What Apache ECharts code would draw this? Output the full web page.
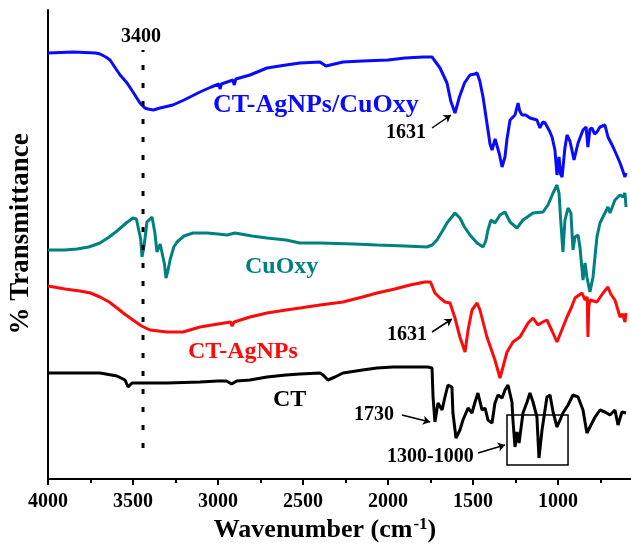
<!DOCTYPE html>
<html>
<head>
<meta charset="utf-8">
<script src="https://cdn.jsdelivr.net/npm/echarts@6/dist/echarts.min.js"></script>
<style>
  html, body { margin: 0; padding: 0; background: #fff; }
  #chart { width: 631px; height: 548px; }
</style>
</head>
<body>
<div id="chart"></div>
<script>
// [wavenumber cm-1, transmittance (a.u., curves stacked with offsets)]
var ctAgCuOxy = [[4000,426],[3850,427],[3720,426],[3694,425],[3660,422],[3635,419],[3600,410],[3576,404],[3535,396],[3500,387],[3459,376],[3430,371],[3412,370],[3380,369],[3341,371],[3265,374],[3200,379],[3106,387],[3040,392],[2995,395],[2988,390],[2980,395],[2912,399],[2905,394],[2895,400],[2812,404],[2712,411],[2600,414],[2518,416],[2400,417],[2365,413],[2340,414],[2265,417],[2150,418],[2000,419],[1900,421],[1794,422],[1741,422],[1694,411],[1653,396],[1631,378],[1606,366],[1580,382],[1550,396],[1518,404],[1490,405],[1476,406],[1460,398],[1441,382],[1412,349],[1400,335],[1388,329],[1370,340],[1359,339],[1345,325],[1329,312],[1312,322],[1300,340],[1282,359],[1253,364],[1235,376],[1225,368],[1212,364],[1190,364],[1165,361],[1124,359],[1106,351],[1090,357],[1076,356],[1050,348],[1035,342],[1018,329],[1006,304],[994,322],[985,305],[976,302],[960,330],[947,344],[930,338],[918,329],[906,319],[882,336],[853,349],[835,352],[829,350],[824,332],[812,350],[800,351],[785,345],[771,347],[753,352],[724,354],[706,342],[676,332],[650,322],[635,316],[606,302],[600,306]];

var cuOxy = [[4000,229],[3900,229],[3830,230],[3760,232],[3694,236],[3640,242],[3594,248],[3540,256],[3500,261],[3480,260],[3471,258],[3455,240],[3447,222],[3438,230],[3429,241],[3418,257],[3388,262],[3371,246],[3359,227],[3347,232],[3340,235],[3329,226],[3315,215],[3306,201],[3295,208],[3282,219],[3260,232],[3241,237],[3200,243],[3147,246],[3065,246],[3000,245],[2947,244],[2900,246],[2800,243],[2712,241],[2600,239],[2518,236],[2400,236],[2200,235],[2065,234],[1900,233],[1771,232],[1740,234],[1712,239],[1680,248],[1653,256],[1606,266],[1577,261],[1550,252],[1518,244],[1476,236],[1441,232],[1425,238],[1412,249],[1394,259],[1371,256],[1341,264],[1312,267],[1282,257],[1241,251],[1206,259],[1147,266],[1088,267],[1059,274],[1029,286],[1006,294],[994,286],[983,256],[971,227],[959,259],[941,271],[924,266],[912,229],[900,242],[882,244],[871,232],[853,199],[841,216],[830,202],[812,187],[794,202],[771,242],[753,256],[724,266],[706,272],[694,266],[665,279],[635,284],[618,282],[606,286],[600,272]];

var ctAgNPs = [[4000,193],[3900,190],[3812,188],[3750,186],[3694,182],[3640,177],[3594,171],[3550,165],[3500,159],[3450,153],[3400,149],[3300,147],[3206,147],[3106,152],[3000,155],[2925,157],[2918,153],[2905,157],[2812,162],[2712,166],[2600,169],[2518,171],[2400,174],[2265,177],[2150,182],[2065,186],[1960,190],[1871,194],[1782,197],[1750,197],[1741,196],[1724,186],[1694,181],[1665,177],[1635,176],[1606,161],[1577,142],[1547,127],[1529,149],[1506,169],[1476,176],[1459,169],[1418,142],[1371,119],[1341,101],[1300,127],[1265,137],[1224,142],[1176,156],[1147,161],[1118,154],[1090,157],[1065,159],[1035,148],[1006,137],[980,148],[947,162],[920,172],[900,181],[859,186],[841,179],[828,182],[824,142],[819,172],[812,179],[771,177],[735,186],[706,192],[690,185],[665,179],[635,162],[620,165],[606,157],[600,166]];

var ct = [[4000,106],[3800,106],[3694,106],[3594,103],[3547,99],[3529,92],[3506,96],[3459,96],[3300,96],[3106,97],[3000,98],[2950,98],[2920,95],[2890,98],[2812,99],[2712,102],[2600,104],[2518,105],[2400,106],[2382,104],[2353,99],[2312,102],[2265,106],[2150,109],[2065,111],[1971,112],[1850,112],[1765,112],[1741,111],[1735,82],[1724,57],[1706,76],[1682,69],[1665,82],[1647,94],[1624,92],[1618,66],[1600,41],[1577,49],[1559,59],[1529,71],[1506,66],[1488,77],[1471,86],[1447,69],[1429,71],[1412,59],[1388,56],[1371,76],[1353,84],[1329,81],[1312,89],[1294,94],[1271,77],[1265,59],[1253,32],[1241,47],[1229,36],[1206,66],[1182,77],[1165,86],[1147,77],[1124,62],[1112,21],[1094,49],[1065,82],[1047,84],[1029,67],[1006,52],[988,59],[971,66],[941,74],[912,84],[882,82],[853,69],[830,46],[812,52],[782,62],[753,69],[724,67],[694,64],[665,69],[647,54],[624,67],[600,66]];

var ohLine = [[3441,31],[3441,429]];
var xTickLabels = [4000, 3500, 3000, 2500, 2000, 1500, 1000];

var FONT = '"Liberation Serif", "Times New Roman", serif';
var chart = echarts.init(document.getElementById('chart'));

function arrow(a, b) {
  return [{ coord: a }, { coord: b }];
}

var option = {
  animation: false,
  grid: { left: 48, right: -12, top: 10, bottom: 69, containLabel: false, outerBoundsMode: 'none' },
  xAxis: {
    type: 'value',
    min: 500,
    max: 4000,
    interval: 500,
    inverse: true,
    axisLine: { lineStyle: { color: '#000', width: 2 } },
    axisTick: { length: 6, lineStyle: { color: '#000', width: 2 } },
    minorTick: { show: true, splitNumber: 2, length: 4, lineStyle: { color: '#000', width: 2 } },
    splitLine: { show: false },
    axisLabel: {
      margin: 13,
      color: '#000',
      fontFamily: FONT,
      fontWeight: 'bold',
      fontSize: 20,
      formatter: function (v) { return xTickLabels.indexOf(v) >= 0 ? v : ''; }
    }
  },
  yAxis: {
    type: 'value',
    min: 0,
    max: 469,
    axisLine: { show: true, lineStyle: { color: '#000', width: 2 } },
    axisTick: { show: false },
    axisLabel: { show: false },
    splitLine: { show: false }
  },
  series: [
    {
      name: 'CT-AgNPs/CuOxy', type: 'line', data: ctAgCuOxy, showSymbol: false,
      lineStyle: { color: '#0a0aff', width: 3 }
    },
    {
      name: 'CuOxy', type: 'line', data: cuOxy, showSymbol: false,
      lineStyle: { color: '#008080', width: 3 }
    },
    {
      name: 'CT-AgNPs', type: 'line', data: ctAgNPs, showSymbol: false,
      lineStyle: { color: '#ff0a0a', width: 3 }
    },
    {
      name: 'CT', type: 'line', data: ct, showSymbol: false,
      lineStyle: { color: '#000', width: 3 },
      markArea: {
        silent: true,
        itemStyle: { color: 'rgba(0,0,0,0)', borderColor: '#000', borderWidth: 1.5 },
        data: [[{ coord: [1300, 64] }, { coord: [941, 14] }]]
      }
    },
    {
      name: 'marker', type: 'line', data: ohLine, showSymbol: false,
      lineStyle: { color: '#000', width: 3, type: [5, 13] },
      markLine: {
        silent: true,
        symbol: ['none', 'arrow'],
        symbolSize: 7,
        label: { show: false },
        lineStyle: { color: '#000', width: 1.5, type: 'solid' },
        data: [
          arrow([1741, 351], [1630, 364]),
          arrow([1741, 147], [1624, 160]),
          arrow([1918, 64], [1753, 57]),
          arrow([1471, 26], [1312, 34])
        ]
      }
    }
  ],
  graphic: [
    { type: 'text', x: 141, y: 37, style: { text: '3400', font: 'bold 20px ' + FONT, fill: '#000', align: 'center', verticalAlign: 'middle' } },
    { type: 'text', x: 213, y: 105, style: { text: 'CT-AgNPs/CuOxy', font: 'bold 26px ' + FONT, fill: '#0a0aff', verticalAlign: 'middle' } },
    { type: 'text', x: 245, y: 267, style: { text: 'CuOxy', font: 'bold 24px ' + FONT, fill: '#008080', verticalAlign: 'middle' } },
    { type: 'text', x: 188, y: 352, style: { text: 'CT-AgNPs', font: 'bold 24px ' + FONT, fill: '#ff0a0a', verticalAlign: 'middle' } },
    { type: 'text', x: 273, y: 400, style: { text: 'CT', font: 'bold 24px ' + FONT, fill: '#000', verticalAlign: 'middle' } },
    { type: 'text', x: 386, y: 133, style: { text: '1631', font: 'bold 20px ' + FONT, fill: '#000', verticalAlign: 'middle' } },
    { type: 'text', x: 387, y: 335, style: { text: '1631', font: 'bold 20px ' + FONT, fill: '#000', verticalAlign: 'middle' } },
    { type: 'text', x: 354, y: 415, style: { text: '1730', font: 'bold 20px ' + FONT, fill: '#000', verticalAlign: 'middle' } },
    { type: 'text', x: 387, y: 457, style: { text: '1300-1000', font: 'bold 20px ' + FONT, fill: '#000', verticalAlign: 'middle' } },
    {
      type: 'text', x: 21, y: 234, rotation: Math.PI / 2,
      style: { text: '% Transmittance', font: 'bold 27px ' + FONT, fill: '#000', align: 'center', verticalAlign: 'middle' }
    },
    {
      type: 'text', x: 325, y: 530,
      style: {
        text: '{a|Wavenumber (cm}{b|-1}{a|)}',
        align: 'center', verticalAlign: 'middle',
        rich: {
          a: { font: 'bold 26px ' + FONT, fill: '#000' },
          b: { font: 'bold 17px ' + FONT, fill: '#000', verticalAlign: 'top', padding: [0, 0, 11, 1] }
        }
      }
    }
  ]
};

chart.setOption(option);
</script>
</body>
</html>
